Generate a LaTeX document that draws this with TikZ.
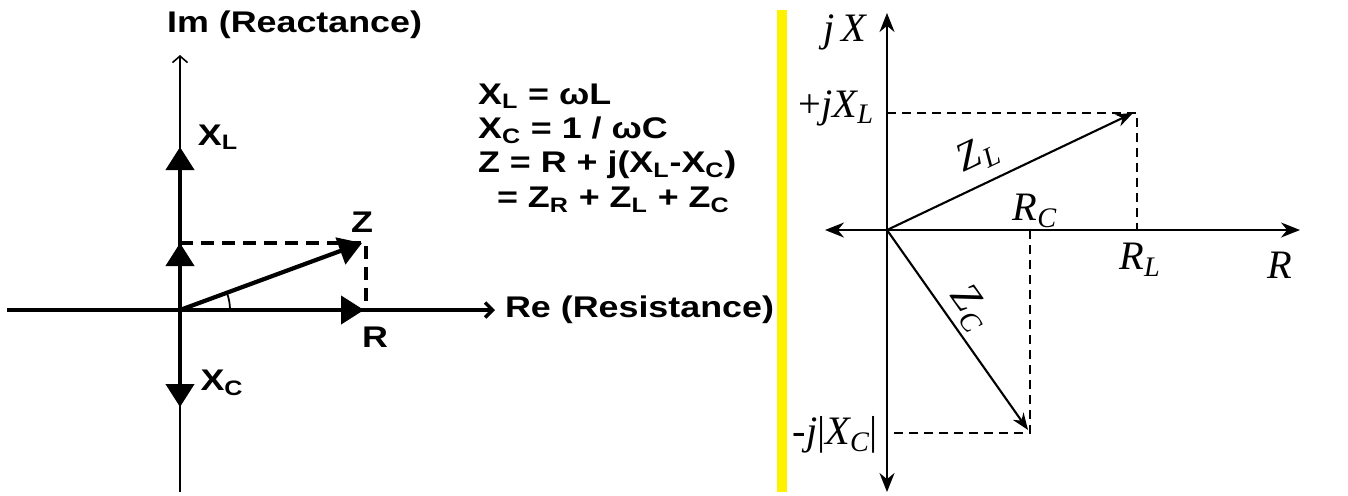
\documentclass[tikz,border=0pt]{standalone}
\usepackage{fontspec}
\setmainfont{Liberation Serif}
\newfontfamily\boldsans[FakeStretch=1.2]{Liberation Sans}
\usetikzlibrary{arrows.meta}

\begin{document}
\begin{tikzpicture}[x=0.02cm, y=-0.02cm,
    sanslabel/.style={font=\boldsans\bfseries\fontsize{17}{20}\selectfont, inner sep=1pt},
    seriflabel/.style={font=\itshape\fontsize{23}{26}\selectfont, inner sep=1pt},
    thinaxis/.style={line width=0.9pt, -{Straight Barb[width=0.3cm, length=0.13cm]}},
    thickaxis/.style={line width=2pt, -{Straight Barb[width=0.3cm, length=0.15cm]}},
    phasor/.style={line width=2.4pt, -{Triangle[width=0.56cm, length=0.46cm]}},
    guide/.style={line width=2.2pt, dash pattern=on 0.26cm off 0.16cm},
    raxis/.style={line width=1.2pt, {Stealth[width=0.3cm, length=0.38cm]}-{Stealth[width=0.3cm, length=0.38cm]}},
    rphasor/.style={line width=1.2pt, -{Stealth[width=0.26cm, length=0.34cm]}},
    rguide/.style={line width=1.1pt, dash pattern=on 0.18cm off 0.12cm}
  ]
  \useasboundingbox (0,0) rectangle (1348,495);

  % left: phasor diagram
  \coordinate (O) at (180,310);
  \coordinate (imtop) at (180,55);
  \coordinate (imbot) at (180,492);
  \coordinate (releft) at (7,310);
  \coordinate (reright) at (495,310);
  \coordinate (XL) at (180,147);
  \coordinate (X) at (180,243);
  \coordinate (XC) at (180,407);
  \coordinate (R) at (364,310);
  \coordinate (Z) at (362,243);
  \coordinate (Zcorner) at (366,243);
  \coordinate (Rcorner) at (366,310);

  \draw[thinaxis] (imbot) -- (imtop);
  \draw[thickaxis] (releft) -- (reright);
  \draw[phasor] (O) -- (XL);
  \draw[phasor] (O) -- (X);
  \draw[phasor] (O) -- (XC);
  \draw[phasor] (O) -- (R);
  \draw[phasor] (O) -- (Z);
  \draw[guide] (X) -- (Zcorner) -- (Rcorner);
  \draw[line width=1pt] (O) ++(50,0) arc[start angle=0, end angle=-20, radius=50];

  \node[sanslabel, anchor=west] (imlabel) at (165,25) {Im (Reactance)};
  \node[sanslabel, anchor=west] (relabel) at (503,310) {Re (Resistance)};
  \node[sanslabel] (xllabel) at (218,137) {X\textsubscript{L}};
  \node[sanslabel] (zlabel) at (362,222) {Z};
  \node[sanslabel] (rlabel) at (375,337) {R};
  \node[sanslabel] (xclabel) at (222,383) {X\textsubscript{C}};

  \node[sanslabel, anchor=west] (f1) at (476,96) {X\textsubscript{L} = ωL};
  \node[sanslabel, anchor=west] (f2) at (476,130) {X\textsubscript{C} = 1 / ωC};
  \node[sanslabel, anchor=west] (f3) at (476,165) {Z = R + j(X\textsubscript{L}-X\textsubscript{C})};
  \node[sanslabel, anchor=west] (f4) at (495,200) {= Z\textsubscript{R} + Z\textsubscript{L} + Z\textsubscript{C}};

  % divider
  \fill[yellow] (777,10) rectangle (787,492);

  % right: impedance plane
  \coordinate (O2) at (887,230);
  \coordinate (jxtop) at (887,13);
  \coordinate (jxbot) at (887,492);
  \coordinate (rleft) at (825,230);
  \coordinate (rright) at (1300,230);
  \coordinate (ZL) at (1133,113);
  \coordinate (ZC) at (1028,430);
  \coordinate (jXL) at (887,113);
  \coordinate (Lcorner) at (1137,113);
  \coordinate (RL) at (1137,230);
  \coordinate (RC) at (1030,230);
  \coordinate (Ccorner) at (1030,433);
  \coordinate (jXC) at (887,433);

  \draw[raxis] (jxbot) -- (jxtop);
  \draw[raxis] (rleft) -- (rright);
  \draw[rguide] (jXL) -- (Lcorner) -- (RL);
  \draw[rguide] (RC) -- (Ccorner) -- (jXC);
  \draw[rphasor] (O2) -- (ZL);
  \draw[rphasor] (O2) -- (ZC);

  \node[seriflabel] (jxlabel) at (845,32) {j\,X};
  \node[seriflabel, anchor=east] (pjxl) at (876,108) {{\upshape +}jX\textsubscript{L}};
  \node[seriflabel, anchor=east] (mjxc) at (880,435) {{\upshape -}j{\upshape |}X\textsubscript{C}{\upshape |}};
  \node[seriflabel, rotate=25] (zllabel) at (978,155) {Z\kern1pt\textsubscript{L}};
  \node[seriflabel, rotate=-55] (zclabel) at (970,308) {Z\kern1pt\textsubscript{C}};
  \node[seriflabel] (rclabel) at (1035,211) {R\textsubscript{C}};
  \node[seriflabel] (rllabel) at (1140,260) {R\textsubscript{L}};
  \node[seriflabel] (r2label) at (1280,265) {R};
\end{tikzpicture}
\end{document}
